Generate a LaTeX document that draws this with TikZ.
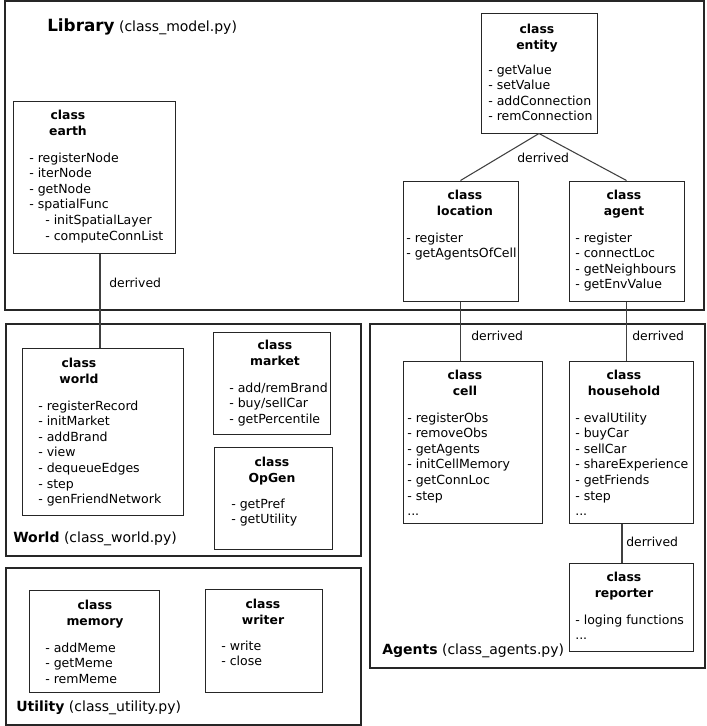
\documentclass[tikz,border=0pt]{standalone}
\usepackage{fontspec}
\setmainfont{DejaVu Sans}
\usetikzlibrary{fit}
\tikzset{
  px/.style={x=0.75pt,y=-0.75pt},
  frame/.style={draw=black!85,line width=1pt,inner sep=0pt},
  cbox/.style={draw=black!85,line width=0.75pt,inner sep=0pt},
  conn/.style={draw=black!75,line width=0.8pt},
  ttl/.style={inner sep=0pt,anchor=base,font=\fontsize{9.3}{11}\selectfont\bfseries},
  mth/.style={inner sep=0pt,anchor=base west,font=\fontsize{9.4}{11}\selectfont},
  lbl/.style={inner sep=0pt,anchor=base west,font=\fontsize{9.3}{11}\selectfont},
  grp/.style={inner sep=0pt,anchor=base west,font=\fontsize{10.5}{12}\selectfont}
}
\newcommand\myddd{...}
\newcommand\mylist[4]{%
  \foreach \t [count=\i] in {#4}
    \node[mth] (#1-m\i) at (#2,{#3+(\i-1)*15.6}) {\t};}
\newcommand\mytitle[4]{%
  \node[ttl] (#1-t1) at (#2,#3) {class};
  \node[ttl] (#1-t2) at (#2,{#3+16}) {#4};}
\begin{document}
\begin{tikzpicture}[px]
\useasboundingbox (0,0) rectangle (707,726);
% frames
\node[frame,fit={(5,1) (704,310)}] (library) {};
\node[frame,fit={(6,324) (361,556)}] (worldf) {};
\node[frame,fit={(6,568) (361,725)}] (utilf) {};
\node[frame,fit={(370,324) (705,668)}] (agentsf) {};
% group labels
\node[inner sep=0pt,anchor=base west] (libl) at (47,31) {\fontsize{12.6}{14}\selectfont\bfseries Library\fontsize{10.5}{12}\selectfont\mdseries{} (class\_model.py)};
\node[grp] (worldl) at (13,542.5) {\textbf{World} (class\_world.py)};
\node[grp] (utill) at (16,711) {\textbf{Utility} (class\_utility.py)};
\node[grp] (agentsl) at (382,654) {\textbf{Agents} (class\_agents.py)};
% class boxes
\node[cbox,fit={(13,101) (175,253)}] (earth) {};
\node[cbox,fit={(481,13) (597,133)}] (entity) {};
\node[cbox,fit={(403,181) (518,301)}] (location) {};
\node[cbox,fit={(569,181) (684,301)}] (agent) {};
\node[cbox,fit={(22,348) (183,515)}] (world) {};
\node[cbox,fit={(213,332) (330,434)}] (market) {};
\node[cbox,fit={(214,447) (332,549)}] (opgen) {};
\node[cbox,fit={(29,590) (159,692)}] (memory) {};
\node[cbox,fit={(205,589) (322,692)}] (writer) {};
\node[cbox,fit={(403,361) (542,523)}] (cell) {};
\node[cbox,fit={(569,361) (693,523)}] (household) {};
\node[cbox,fit={(569,563) (693,651)}] (reporter) {};
% titles
\mytitle{earth}{68}{119.5}{earth}
\mytitle{entity}{537}{33}{entity}
\mytitle{location}{465}{199}{location}
\mytitle{agent}{624}{199}{agent}
\mytitle{world}{79}{367}{world}
\mytitle{market}{275}{349}{market}
\mytitle{opgen}{272}{466}{OpGen}
\mytitle{memory}{95}{609}{memory}
\mytitle{writer}{263}{608}{writer}
\mytitle{cell}{465}{379}{cell}
\mytitle{household}{624}{379}{household}
\mytitle{reporter}{624}{581}{reporter}
% methods
\mylist{earth}{29}{162}{- registerNode,- iterNode,- getNode,- spatialFunc}
\node[mth] (earth-s1) at (45,224.4) {- initSpatialLayer};
\node[mth] (earth-s2) at (45,240) {- computeConnList};
\mylist{entity}{488}{74}{- getValue,- setValue,- addConnection,- remConnection}
\mylist{location}{406}{242}{- register,- getAgentsOfCell}
\mylist{agent}{575}{242}{- register,- connectLoc,- getNeighbours,- getEnvValue}
\mylist{world}{38}{410}{- registerRecord,- initMarket,- addBrand,- view,- dequeueEdges,- step,- genFriendNetwork}
\mylist{market}{229}{392}{- add/remBrand,- buy/sellCar,- getPercentile}
\mylist{opgen}{231}{508}{- getPref,- getUtility}
\mylist{memory}{45}{652}{- addMeme,- getMeme,- remMeme}
\mylist{writer}{221}{650}{- write,- close}
\mylist{cell}{407}{422}{- registerObs,- removeObs,- getAgents,- initCellMemory,- getConnLoc,- step,\myddd}
\mylist{household}{575}{422}{- evalUtility,- buyCar,- sellCar,- shareExperience,- getFriends,- step,\myddd}
\mylist{reporter}{575}{624}{- loging functions,\myddd}
% connectors
\coordinate (xa) at (100,0);
\coordinate (xb) at (622,0);
\draw[conn] (earth.south -| xa) -- (world.north -| xa);
\draw[conn] (entity.south) -- (location.north);
\draw[conn] (entity.south) -- (agent.north);
\draw[conn] (location.south) -- (location.south |- cell.north);
\draw[conn] (agent.south) -- (agent.south |- household.north);
\draw[conn] (household.south -| xb) -- (reporter.north -| xb);
% connector labels
\node[lbl] (d1) at (109,287) {derrived};
\node[lbl] (d2) at (517,162.5) {derrived};
\node[lbl] (d3) at (471,340) {derrived};
\node[lbl] (d4) at (632,340) {derrived};
\node[lbl] (d5) at (626,546.5) {derrived};
\end{tikzpicture}
\end{document}
